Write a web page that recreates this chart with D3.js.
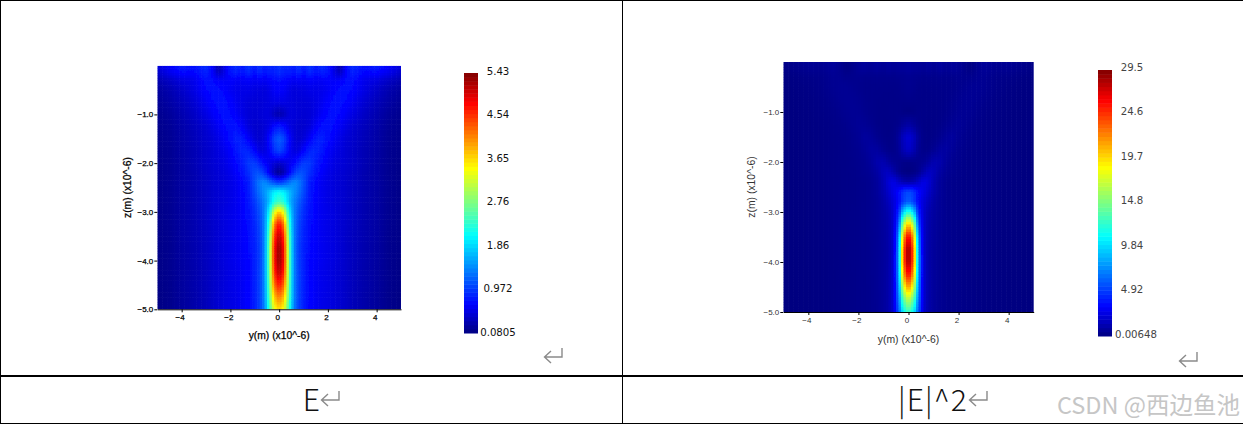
<!DOCTYPE html>
<html><head><meta charset="utf-8">
<style>html,body{margin:0;padding:0;background:#fff}svg{display:block}</style>
<script src="https://cdn.jsdelivr.net/npm/d3@7"></script></head>
<body><svg id="c" width="1243" height="426"></svg>
<script>
// distance from axis |y| (µm) for the columns, the field is mirror symmetric
const yStops=[0,.2,.4,.6,.8,1,1.25,1.5,1.75,2,2.25,2.5,2.75,3,3.5,4,4.5,5];
const zStops=[0,-.15,-.3,-.5,-.75,-1,-1.25,-1.5,-1.75,-2,-2.2,-2.4,-2.6,-2.8,-3,-3.25,-3.5,-3.75,-4,-4.25,-4.5,-4.75,-5];
const eField=[
[.95,.85,.9,.8,.95,.8,.95,.8,.9,.8,.55,.25,.7,.9,.75,.8,.65,.5],
[.9,.82,.82,.75,.88,.72,.88,.75,.82,.78,.55,.4,.68,.85,.68,.7,.58,.42],
[.72,.7,.65,.6,.62,.6,.64,.62,.62,.66,.64,.66,.72,.74,.58,.52,.4,.3],
[.66,.64,.56,.5,.52,.52,.56,.56,.58,.62,.68,.74,.74,.7,.54,.42,.3,.22],
[.55,.55,.52,.5,.48,.48,.5,.54,.6,.68,.74,.74,.7,.62,.46,.35,.25,.18],
[.28,.36,.5,.5,.48,.46,.48,.54,.64,.72,.74,.7,.62,.54,.4,.3,.2,.15],
[.8,.72,.55,.48,.44,.44,.5,.64,.74,.76,.7,.62,.54,.46,.36,.27,.18,.14],
[1.18,1.05,.72,.5,.44,.48,.64,.8,.84,.74,.64,.56,.48,.44,.34,.26,.17,.13],
[1.05,.92,.66,.52,.52,.68,.86,.88,.78,.66,.58,.52,.46,.42,.32,.25,.16,.13],
[.42,.48,.58,.68,.85,1,.98,.82,.7,.62,.54,.5,.46,.42,.32,.24,.16,.12],
[.14,.32,.62,.95,1.12,1.1,.92,.76,.66,.58,.52,.48,.44,.4,.3,.24,.16,.12],
[1,1.1,1.3,1.45,1.35,1.12,.82,.68,.6,.55,.5,.47,.43,.38,.3,.24,.16,.12],
[2.15,2.05,1.75,1.5,1.3,1.08,.82,.68,.6,.55,.5,.47,.43,.38,.3,.24,.16,.12],
[2.45,2.25,1.75,1.4,1.18,.98,.78,.66,.6,.55,.5,.47,.43,.38,.3,.24,.16,.12],
[3.8,3.3,2.1,1.4,1.1,.92,.76,.66,.6,.56,.52,.47,.43,.38,.3,.24,.16,.12],
[4.8,4.15,2.4,1.4,1.05,.88,.74,.65,.6,.56,.52,.47,.43,.38,.3,.24,.16,.12],
[5.2,4.55,2.6,1.4,1.02,.86,.72,.65,.6,.56,.52,.47,.42,.37,.3,.24,.15,.12],
[5.4,4.75,2.7,1.4,1,.85,.72,.64,.6,.56,.52,.47,.42,.37,.29,.23,.15,.12],
[5.4,4.75,2.72,1.42,1,.85,.7,.64,.6,.56,.52,.47,.42,.37,.29,.23,.15,.11],
[5.2,4.6,2.7,1.42,1.02,.85,.7,.63,.58,.55,.5,.46,.42,.36,.28,.22,.15,.11],
[4.75,4.25,2.65,1.42,1.02,.85,.7,.62,.58,.55,.5,.46,.41,.36,.28,.22,.14,.11],
[4.2,3.8,2.55,1.42,1.02,.84,.7,.62,.57,.54,.5,.46,.41,.35,.27,.21,.14,.1],
[3.7,3.4,2.4,1.38,1.02,.84,.68,.62,.56,.54,.5,.45,.4,.35,.27,.21,.14,.1]];
const e2Field=[
[.8,.65,.7,.55,.8,.55,.8,.55,.7,.55,.28,.08,.45,.7,.5,.55,.35,.2],
[.7,.6,.6,.5,.65,.45,.65,.5,.6,.55,.28,.15,.42,.6,.4,.42,.28,.15],
[.45,.4,.35,.3,.32,.3,.34,.32,.32,.38,.34,.36,.45,.48,.28,.22,.13,.07],
[.4,.36,.26,.22,.24,.24,.26,.26,.28,.34,.42,.5,.5,.45,.25,.14,.08,.04],
[.28,.25,.22,.22,.2,.2,.22,.26,.32,.42,.5,.5,.45,.34,.18,.1,.05,.03],
[.06,.12,.22,.22,.2,.18,.2,.26,.38,.48,.5,.45,.34,.24,.14,.08,.04,.02],
[.9,.65,.3,.2,.16,.16,.22,.38,.5,.58,.45,.34,.24,.18,.1,.06,.03,.02],
[2.2,1.7,.65,.22,.16,.2,.38,.65,.75,.5,.36,.26,.2,.16,.09,.06,.03,.02],
[1.9,1.4,.5,.24,.24,.44,.78,.85,.6,.4,.3,.22,.18,.14,.08,.05,.02,.01],
[.2,.25,.36,.48,.8,1.25,1.15,.7,.45,.34,.26,.2,.18,.14,.08,.05,.02,.01],
[.02,.1,.4,1.1,1.7,1.5,.9,.55,.4,.3,.24,.2,.16,.13,.08,.05,.02,.01],
[1,1.2,1.9,2.6,2.2,1.3,.7,.42,.32,.27,.22,.2,.16,.12,.08,.05,.02,.01],
[5.5,5,3.4,2.6,1.9,1.2,.68,.42,.32,.27,.22,.2,.16,.12,.08,.05,.02,.01],
[6.2,5.2,3.2,2.2,1.5,.95,.6,.4,.32,.27,.22,.2,.16,.12,.08,.05,.02,.01],
[12.5,10,4.2,2,1.2,.85,.58,.4,.32,.28,.24,.2,.16,.12,.08,.05,.02,.01],
[21,16.5,5.6,2,1.1,.78,.55,.4,.32,.28,.24,.2,.16,.12,.08,.05,.02,.01],
[27,21.5,7,2,1.05,.75,.52,.4,.32,.28,.24,.2,.15,.12,.08,.05,.02,.01],
[29.5,23.5,7.6,2,1,.72,.52,.38,.32,.28,.24,.2,.15,.12,.07,.05,.02,.01],
[29.3,23.5,7.8,2.1,1,.72,.5,.38,.32,.28,.24,.2,.15,.12,.07,.05,.02,.01],
[26.5,21.5,7.6,2.1,1.05,.72,.5,.38,.3,.27,.22,.19,.15,.11,.07,.04,.02,.01],
[22,18,7.2,2.1,1.05,.72,.5,.36,.3,.27,.22,.19,.14,.11,.07,.04,.02,.01],
[17,14,6.6,2.1,1.05,.7,.48,.36,.3,.26,.22,.19,.14,.1,.06,.04,.02,.01],
[13,11,5.8,2,1.05,.7,.46,.36,.28,.26,.22,.18,.14,.1,.06,.04,.02,.01]];
const yTicks=[-4,-2,0,2,4];
const zTicks=[-1,-2,-3,-4,-5];
const eLegend=["5.43","4.54","3.65","2.76","1.86","0.972","0.0805"];
const e2Legend=["29.5","24.6","19.7","14.8","9.84","4.92","0.00648"];
const jetStops=[0,.11,.375,.635,.885,1];
const jetColors=["#000080","#0000ff","#00ffff","#ffff00","#ff0000","#800000"];
const xTitle="y(m) (x10^-6)", zTitle="z(m) (x10^-6)";
const captions=["E","|E|^2"];

const svg=d3.select("#c");
const jet=d3.scaleLinear().domain(jetStops).range(jetColors).clamp(true);
const fontA='"DejaVu Sans",sans-serif', fontB='"Liberation Sans",Arial,sans-serif';

function panel(o){
  const x=d3.scaleLinear().domain([-5,5]).range([o.l,o.r]);
  const z=d3.scaleLinear().domain([0,-5]).range([o.t,o.b]);
  const colIdx=d3.scaleLinear().domain(yStops).range(yStops.map((_,i)=>i));
  const rowIdx=d3.scaleLinear().domain(zStops).range(zStops.map((_,i)=>i));
  const sample=(yv,zv)=>{
    const cf=colIdx(Math.abs(yv)),rf=rowIdx(zv);
    const c=Math.min(Math.floor(cf),yStops.length-2),r=Math.min(Math.floor(rf),zStops.length-2);
    const a=cf-c,b=rf-r,m=o.field;
    return (m[r][c]*(1-a)+m[r][c+1]*a)*(1-b)+(m[r+1][c]*(1-a)+m[r+1][c+1]*a)*b;
  };
  const t=d3.scaleLinear().domain([o.min,o.max]).range([0,1]);
  const N=100,cells=d3.cross(d3.range(N),d3.range(N)).map(([i,j])=>{
    const yv=-5+10*(i+.5)/N,zv=-5*(j+.5)/N;
    return {i,j,v:sample(yv,zv)};
  });
  const clip=svg.append("g").attr("clip-path",`url(#${o.id})`);
  const g=clip.append("g").attr("filter","url(#soft)");
  svg.append("clipPath").attr("id",o.id).append("rect").attr("x",o.l).attr("y",o.t).attr("width",o.r-o.l).attr("height",o.b-o.t);
  g.selectAll("rect").data(cells).join("rect")
    .attr("x",d=>x(-5+10*d.i/N)).attr("y",d=>z(-5*d.j/N))
    .attr("width",(o.r-o.l)/N+.6).attr("height",(o.b-o.t)/N+.6)
    .attr("fill",d=>jet(t(d.v)));
  const ax=svg.append("g").attr("transform",`translate(0,${o.b})`)
    .call(d3.axisBottom(x).tickValues(yTicks).tickSizeInner(3).tickSizeOuter(0).tickPadding(2).tickFormat(d3.format("d")));
  const az=svg.append("g").attr("transform",`translate(${o.l},0)`)
    .call(d3.axisLeft(z).tickValues(zTicks).tickSizeInner(3).tickSizeOuter(0).tickPadding(1).tickFormat(d3.format(".1f")));
  az.select(".domain").remove();
  [ax,az].forEach(a=>a.selectAll("text").attr("font-family",fontB).attr("font-size",o.tick).attr("fill",o.ink)
     .attr("stroke",o.ink).attr("stroke-width",o.sw));
  ax.selectAll("text").attr("dx",-2);
  svg.append("text").attr("x",(o.l+o.r)/2).attr("y",o.b+o.titleDy).attr("text-anchor","middle")
    .attr("font-family",fontB).attr("font-size",o.title).attr("fill",o.ink).attr("stroke",o.ink).attr("stroke-width",o.sw).text(xTitle);
  svg.append("text").attr("transform",`translate(${o.zx},${(o.t+o.b)/2}) rotate(-90)`).attr("text-anchor","middle")
    .attr("font-family",fontB).attr("font-size",o.title).attr("fill",o.ink).attr("stroke",o.ink).attr("stroke-width",o.sw).text(zTitle);
  // colour bar
  const B=64,cb=d3.scaleLinear().domain([0,1]).range([o.bb,o.bt]);
  svg.append("g").selectAll("rect").data(d3.range(B)).join("rect")
    .attr("x",o.bl).attr("width",o.br-o.bl)
    .attr("y",d=>cb((d+1)/B)).attr("height",(o.bb-o.bt)/B+.5)
    .attr("fill",d=>jet((d+.5)/B));
  const ly=d3.scaleLinear().domain([0,o.legend.length-1]).range([o.lt,o.lb]);
  svg.append("g").selectAll("text").data(o.legend).join("text")
    .attr("x",(d,i)=>o.lx+(i==o.legend.length-1?o.lastDx:0)).attr("y",(d,i)=>ly(i)).attr("dy","0.35em").attr("text-anchor","middle")
    .attr("font-family",fontA).attr("font-size",o.ls).attr("fill",o.lc).text(d=>d);
}
const defs=svg.append("defs");
defs.append("filter").attr("id","soft").attr("x","-3%").attr("y","-3%").attr("width","106%").attr("height","106%")
  .append("feGaussianBlur").attr("stdDeviation",.7);

panel({id:"p1",field:eField,min:.0805,max:5.43,l:157.3,r:401,t:65.7,b:309.3,tick:8,title:10.3,ink:"#000",sw:.25,titleDy:30,zx:131,
  bl:464,br:478,bt:73,bb:333,legend:eLegend,lt:71,lb:332,lx:498,lastDx:0,ls:10.2,lc:"#111"});
panel({id:"p2",field:e2Field,min:.00648,max:29.5,l:783.3,r:1033.7,t:62,b:312,tick:8,title:10.4,ink:"#333",sw:0,titleDy:31,zx:755,
  bl:1098,br:1112,bt:70,bb:336,legend:e2Legend,lt:67,lb:334,lx:1132,lastDx:4,ls:10.2,lc:"#444"});

// table rules
const rule=(x1,y1,x2,y2,w)=>svg.append("line").attr("x1",x1).attr("y1",y1).attr("x2",x2).attr("y2",y2).attr("stroke","#000").attr("stroke-width",w);
rule(0,.5,1243,.5,1);rule(.5,0,.5,423.5,1);rule(622.5,0,622.5,423.5,1);rule(0,376,1243,376,2);rule(0,423.5,1243,423.5,1);

// return marks
[[543,345],[1178,349],[320,388],[968,388]].forEach(([ax,ay])=>{
  svg.append("path").attr("d",`M${ax+19} ${ay+3}V${ay+12}H${ax+1.5}M${ax+8} ${ay+6}L${ax+1.5} ${ay+12}L${ax+8} ${ay+18}`)
   .attr("fill","none").attr("stroke","#8a8a8a").attr("stroke-width",1.4);
});
const capFont='"Noto Sans CJK SC","Noto Sans",sans-serif';
svg.append("text").attr("x",320).attr("y",411).attr("text-anchor","end").attr("font-family",capFont).attr("font-weight",300).attr("font-size",30).attr("fill","#111").text(captions[0]);
svg.append("text").attr("x",968).attr("y",411).attr("text-anchor","end").attr("font-family",capFont).attr("font-weight",300).attr("font-size",30).attr("letter-spacing",1.1).attr("fill","#111").text(captions[1]);
svg.append("text").attr("x",1240).attr("y",414).attr("text-anchor","end").attr("font-family",'"Noto Sans CJK SC",sans-serif').attr("font-size",23.5).attr("fill","#c6c6c6").text("CSDN @西边鱼池");
</script></body></html>
